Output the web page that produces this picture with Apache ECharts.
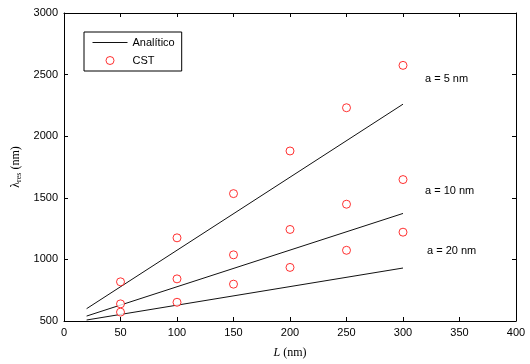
<!DOCTYPE html>
<html>
<head>
<meta charset="utf-8">
<script src="https://cdn.jsdelivr.net/npm/echarts@6/dist/echarts.min.js"></script>
<style>
  html, body { margin: 0; padding: 0; background: #fff; }
  #chart { width: 530px; height: 364px; }
</style>
</head>
<body>
<div id="chart"></div>
<script>
// L values (nm)
const lengths = [50, 100, 150, 200, 250, 300];
const lineEnds = [20, 300];

// analytical lines (endpoints)
const analytic5 = [600, 2260];
const analytic10 = [540, 1373];
const analytic20 = [508, 930];

// CST simulation points
const cst5 = [818, 1175, 1534, 1880, 2231, 2575];
const cst10 = [639, 842, 1037, 1243, 1448, 1648];
const cst20 = [572, 652, 799, 935, 1074, 1221];

const chart = echarts.init(document.getElementById('chart'));

const font = 'Liberation Sans, Arial, sans-serif';
const pairs = (xs, ys) => xs.map((x, i) => [x, ys[i]]);

const lineSeries = (vals) => ({
  name: 'Analítico',
  type: 'line',
  data: pairs(lineEnds, vals),
  symbol: 'none',
  lineStyle: { color: '#111', width: 1 },
  itemStyle: { color: '#111' },
  silent: true,
  z: 2
});

const cstSeries = (vals) => ({
  name: 'CST',
  type: 'scatter',
  data: pairs(lengths, vals),
  symbol: 'circle',
  symbolSize: 8,
  itemStyle: { color: '#fff', borderColor: '#ff0000', borderWidth: 1 },
  z: 3
});

const axisCommon = {
  axisLine: { show: true, onZero: false, lineStyle: { color: '#000', width: 1 } },
  axisTick: { show: true, inside: true, length: 4, lineStyle: { color: '#000' } },
  splitLine: { show: false }
};

const option = {
  animation: false,
  backgroundColor: '#fff',
  grid: { left: 64, right: 14, top: 13, bottom: 39 },
  legend: {
    orient: 'vertical',
    left: 84,
    top: 32,
    padding: [5, 7, 5, 8],
    itemGap: 7,
    itemWidth: 35,
    itemHeight: 8,
    borderColor: '#000',
    borderWidth: 1,
    textStyle: { fontFamily: font, fontSize: 11, color: '#000' },
    data: [
      {
        name: 'Analítico',
        lineStyle: { width: 1, color: '#111' },
        itemStyle: { color: 'rgba(0,0,0,0)', borderWidth: 0, borderColor: 'rgba(0,0,0,0)' }
      },
      { name: 'CST', itemStyle: { borderWidth: 1, borderColor: '#ff0000', color: '#fff' } }
    ]
  },
  xAxis: [
    Object.assign({
      type: 'value', min: 0, max: 400, interval: 50,
      name: '{i|L} (nm)',
      nameLocation: 'middle',
      nameGap: 26,
      nameTextStyle: {
        fontFamily: 'Liberation Serif, serif', fontSize: 12, color: '#000',
        rich: { i: { fontFamily: 'Liberation Serif, serif', fontStyle: 'italic', fontSize: 12 } }
      },
      axisLabel: { fontFamily: font, fontSize: 11, color: '#000', margin: 6, formatter: v => String(v) }
    }, axisCommon),
    Object.assign({
      type: 'value', min: 0, max: 400, interval: 50, position: 'top',
      axisLabel: { show: false }
    }, axisCommon)
  ],
  yAxis: [
    Object.assign({
      type: 'value', min: 500, max: 3000, interval: 500,
      name: 'λ{s|res} (nm)',
      nameLocation: 'middle',
      nameRotate: 90,
      nameGap: 33,
      nameTextStyle: {
        fontFamily: 'Liberation Serif, serif', fontSize: 12, color: '#000',
        rich: { s: { fontFamily: 'Liberation Serif, serif', fontSize: 8, verticalAlign: 'bottom', padding: [6, 0, 0, 0] } }
      },
      axisLabel: { fontFamily: font, fontSize: 11, color: '#000', margin: 6, formatter: v => String(v) }
    }, axisCommon),
    Object.assign({
      type: 'value', min: 500, max: 3000, interval: 500, position: 'right',
      axisLabel: { show: false }
    }, axisCommon)
  ],
  graphic: [
    { type: 'text', left: 425, top: 73, style: { text: 'a = 5 nm', font: '11px ' + font, fill: '#000' } },
    { type: 'text', left: 425, top: 185, style: { text: 'a = 10 nm', font: '11px ' + font, fill: '#000' } },
    { type: 'text', left: 427, top: 245, style: { text: 'a = 20 nm', font: '11px ' + font, fill: '#000' } }
  ],
  series: [
    lineSeries(analytic5),
    lineSeries(analytic10),
    lineSeries(analytic20),
    cstSeries(cst5),
    cstSeries(cst10),
    cstSeries(cst20)
  ]
};

chart.setOption(option);
</script>
</body>
</html>
